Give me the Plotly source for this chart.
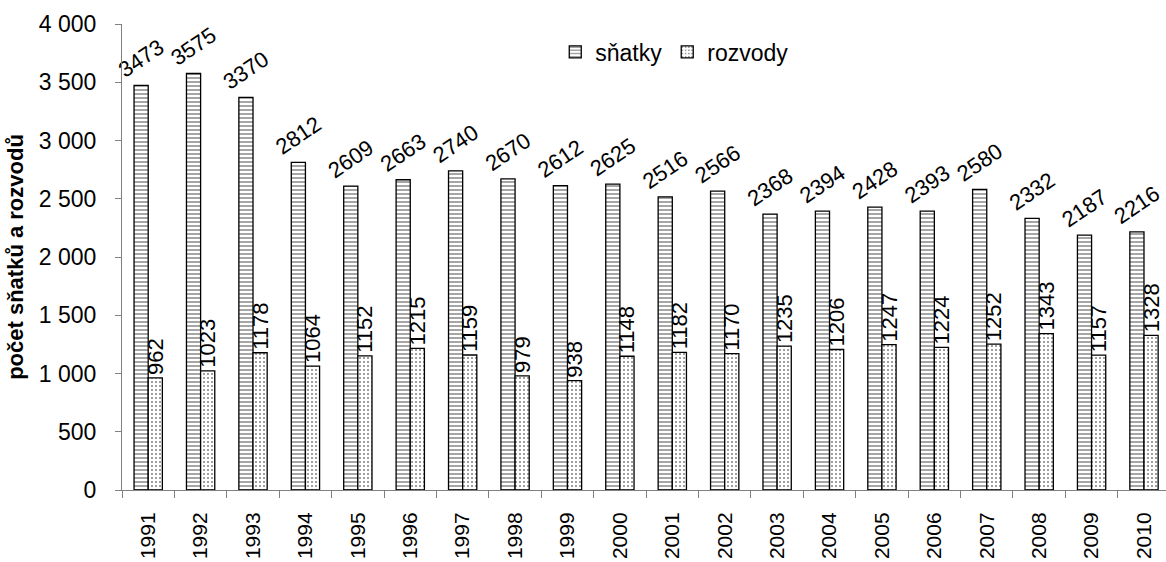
import plotly.graph_objects as go

years = [str(y) for y in range(1991, 2011)]
snatky = [3473, 3575, 3370, 2812, 2609, 2663, 2740, 2670, 2612, 2625,
          2516, 2566, 2368, 2394, 2428, 2393, 2580, 2332, 2187, 2216]
rozvody = [962, 1023, 1178, 1064, 1152, 1215, 1159, 979, 938, 1148,
           1182, 1170, 1235, 1206, 1247, 1224, 1252, 1343, 1157, 1328]

ytick_vals = [0, 500, 1000, 1500, 2000, 2500, 3000, 3500, 4000]
ytick_text = ["0", "500", "1 000", "1 500", "2 000", "2 500", "3 000", "3 500", "4 000"]

FONT = "Liberation Sans, Arial, sans-serif"

fig = go.Figure()
fig.add_trace(go.Bar(
    x=years, y=snatky, name="sňatky",
    text=[str(v) for v in snatky], textposition="outside", textangle=-34,
    constraintext="none", cliponaxis=False,
    textfont=dict(size=22, color="black", family=FONT),
    marker=dict(color="white", line=dict(color="black", width=1.3),
                pattern=dict(shape="-", fgcolor="black", bgcolor="white",
                             size=4, solidity=0.35)),
))
fig.add_trace(go.Bar(
    x=years, y=rozvody, name="rozvody",
    text=[str(v) for v in rozvody], textposition="outside", textangle=-90,
    constraintext="none", cliponaxis=False,
    textfont=dict(size=22, color="black", family=FONT),
    marker=dict(color="white", line=dict(color="black", width=1.3),
                pattern=dict(shape=".", fgcolor="black", bgcolor="white",
                             size=4, solidity=0.2)),
))

fig.update_layout(
    width=1166, height=562,
    barmode="group", bargap=0.46, bargroupgap=0,
    plot_bgcolor="white", paper_bgcolor="white",
    font=dict(family=FONT, size=23, color="black"),
    margin=dict(l=122, r=0, t=24, b=72),
    showlegend=True,
    legend=dict(orientation="h", x=0.415, y=0.94, xanchor="left", yanchor="middle",
                font=dict(size=23), bgcolor="rgba(0,0,0,0)", itemwidth=30,
                tracegroupgap=0),
    xaxis=dict(range=[-0.5, 19.42], tickangle=-90, tickson="boundaries",
               ticks="outside", ticklen=7, tickcolor="#808080",
               ticklabelstandoff=13, automargin=False,
               showline=True, linecolor="#808080", linewidth=1,
               tickfont=dict(size=21)),
    yaxis=dict(range=[0, 4000], tickvals=ytick_vals, ticktext=ytick_text,
               ticks="outside", ticklen=6, tickcolor="#808080",
               ticklabelstandoff=14, automargin=False,
               showline=True, linecolor="#808080", linewidth=1,
               showgrid=False, zeroline=False, tickfont=dict(size=23),
               title=dict(text="<b>počet sňatků a rozvodů</b>", font=dict(size=22),
                          standoff=9)),
)

# drop the default body margin so the figure fills the window
fig.write_html("out.html", config={"displayModeBar": False},
               post_script="document.body.style.margin='0';")
